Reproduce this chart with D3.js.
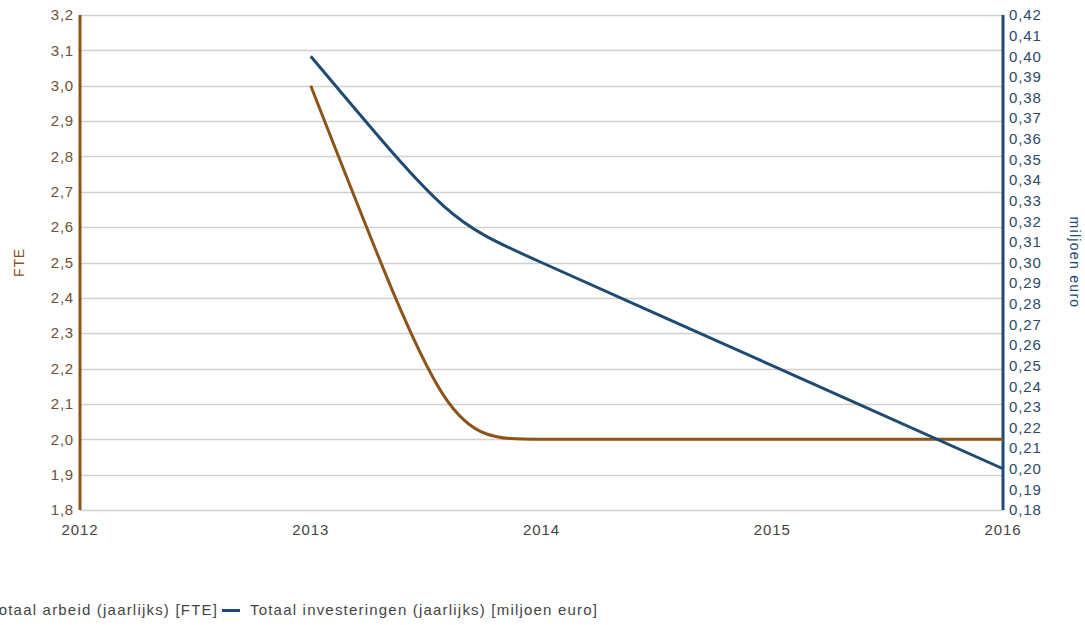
<!DOCTYPE html>
<html>
<head>
<meta charset="utf-8">
<script src="https://cdn.jsdelivr.net/npm/d3@7"></script>
<style>
  body { margin: 0; background: #fff; }
  svg { display: block; font-family: "Liberation Sans", Arial, sans-serif; }
</style>
</head>
<body>
<svg id="chart" width="1085" height="625"></svg>
<script>
const years = [2013, 2014, 2015, 2016];
const fteValues = [3.0, 2.0, 2.0, 2.0];
const investValues = [0.40, 0.30, 0.25, 0.20];
const xTickValues = [2012, 2013, 2014, 2015, 2016];
const leftTickValues = d3.range(18, 33).map(v => v / 10);
const rightTickValues = d3.range(18, 43).map(v => v / 100);
const seriesNames = ["Totaal arbeid (jaarlijks) [FTE]", "Totaal investeringen (jaarlijks) [miljoen euro]"];
const axisTitles = ["FTE", "miljoen euro"];

const brown = "#8c5419";
const blue = "#1f4b73";
const fmt1 = d => d.toFixed(1).replace(".", ",");
const fmt2 = d => d.toFixed(2).replace(".", ",");

const svg = d3.select("#chart");
const L = 80, R = 1003, T = 15, B = 510;

const x = d3.scaleLinear().domain([2012, 2016]).range([L, R]);
const yL = d3.scaleLinear().domain([1.8, 3.2]).range([B, T]);
const yR = d3.scaleLinear().domain([0.18, 0.42]).range([B, T]);

// smoothed path: handles of 0.4 * segment width, interior tangent = gentler adjacent slope
function splinePath(pts) {
  const n = pts.length, k = 0.4;
  const lc = [], rc = [];
  for (let i = 1; i < n - 1; i++) {
    const [px, py] = pts[i], [lx, ly] = pts[i - 1], [nx, ny] = pts[i + 1];
    const s0 = (py - ly) / (px - lx), s1 = (ny - py) / (nx - px);
    const m = (s0 * s1 <= 0) ? 0 : (Math.abs(s0) < Math.abs(s1) ? s0 : s1);
    const dl = k * (px - lx), dr = k * (nx - px);
    lc[i] = [px - dl, py - m * dl];
    rc[i] = [px + dr, py + m * dr];
  }
  const p = d3.path();
  p.moveTo(pts[0][0], pts[0][1]);
  for (let i = 1; i < n; i++) {
    const c2 = lc[i] || pts[i];
    const c1 = rc[i - 1] || (i === 1 ? c2 : pts[i - 1]);
    p.bezierCurveTo(c1[0], c1[1], c2[0], c2[1], pts[i][0], pts[i][1]);
  }
  return p.toString();
}

// grid
svg.append("g").selectAll("line").data(leftTickValues).join("line")
  .attr("x1", L).attr("x2", R)
  .attr("y1", d => Math.round(yL(d)) + 0.5).attr("y2", d => Math.round(yL(d)) + 0.5)
  .attr("stroke", "#d0d0d0").attr("stroke-width", 1.5);

// left tick labels
svg.append("g").selectAll("text").data(leftTickValues).join("text")
  .attr("x", L - 6).attr("y", d => yL(d)).attr("dy", "0.35em")
  .attr("text-anchor", "end").attr("font-size", 15).attr("letter-spacing", 0.8)
  .attr("fill", "#6e5134")
  .text(fmt1);

// right tick labels
svg.append("g").selectAll("text").data(rightTickValues).join("text")
  .attr("x", R + 6).attr("y", d => yR(d)).attr("dy", "0.35em")
  .attr("text-anchor", "start").attr("font-size", 15).attr("letter-spacing", 0.9)
  .attr("fill", "#2a4a6a")
  .text(fmt2);

// x tick labels
svg.append("g").selectAll("text").data(xTickValues).join("text")
  .attr("x", d => x(d)).attr("y", 530).attr("dy", "0.35em")
  .attr("text-anchor", "middle").attr("font-size", 15).attr("letter-spacing", 0.9)
  .attr("fill", "#444")
  .text(d => d);

// axis lines
svg.append("line").attr("x1", L).attr("x2", L).attr("y1", T).attr("y2", B)
  .attr("stroke", brown).attr("stroke-width", 3);
svg.append("line").attr("x1", R).attr("x2", R).attr("y1", T).attr("y2", B)
  .attr("stroke", blue).attr("stroke-width", 3);

// axis titles
svg.append("text").attr("transform", `translate(24,${(T + B) / 2}) rotate(-90)`)
  .attr("text-anchor", "middle").attr("font-size", 14).attr("letter-spacing", 0.8)
  .attr("fill", brown).text(axisTitles[0]);
svg.append("text").attr("transform", `translate(1070,${(T + B) / 2}) rotate(90)`)
  .attr("text-anchor", "middle").attr("font-size", 14).attr("letter-spacing", 1.3)
  .attr("fill", blue).text(axisTitles[1]);

// lines
const ftePts = fteValues.map((v, i) => [x(years[i]), yL(v)]);
const invPts = investValues.map((v, i) => [x(years[i]), yR(v)]);

svg.append("path").attr("d", splinePath(ftePts)).attr("fill", "none")
  .attr("stroke", brown).attr("stroke-width", 3).attr("stroke-linejoin", "round");
svg.append("path").attr("d", splinePath(invPts)).attr("fill", "none")
  .attr("stroke", blue).attr("stroke-width", 3).attr("stroke-linejoin", "round");

// legend
const legend = svg.append("g").attr("font-size", 15).attr("letter-spacing", 1.2);
const items = [
  { name: seriesNames[0], color: brown, sx: -36, tx: -10 },
  { name: seriesNames[1], color: blue, sx: 222, tx: 250 }
];
items.forEach(it => {
  legend.append("line").attr("x1", it.sx).attr("x2", it.sx + 18)
    .attr("y1", 610.5).attr("y2", 610.5).attr("stroke", it.color).attr("stroke-width", 3);
  legend.append("text").attr("x", it.tx).attr("y", 610).attr("dy", "0.35em")
    .attr("fill", "#444").text(it.name);
});
</script>
</body>
</html>
